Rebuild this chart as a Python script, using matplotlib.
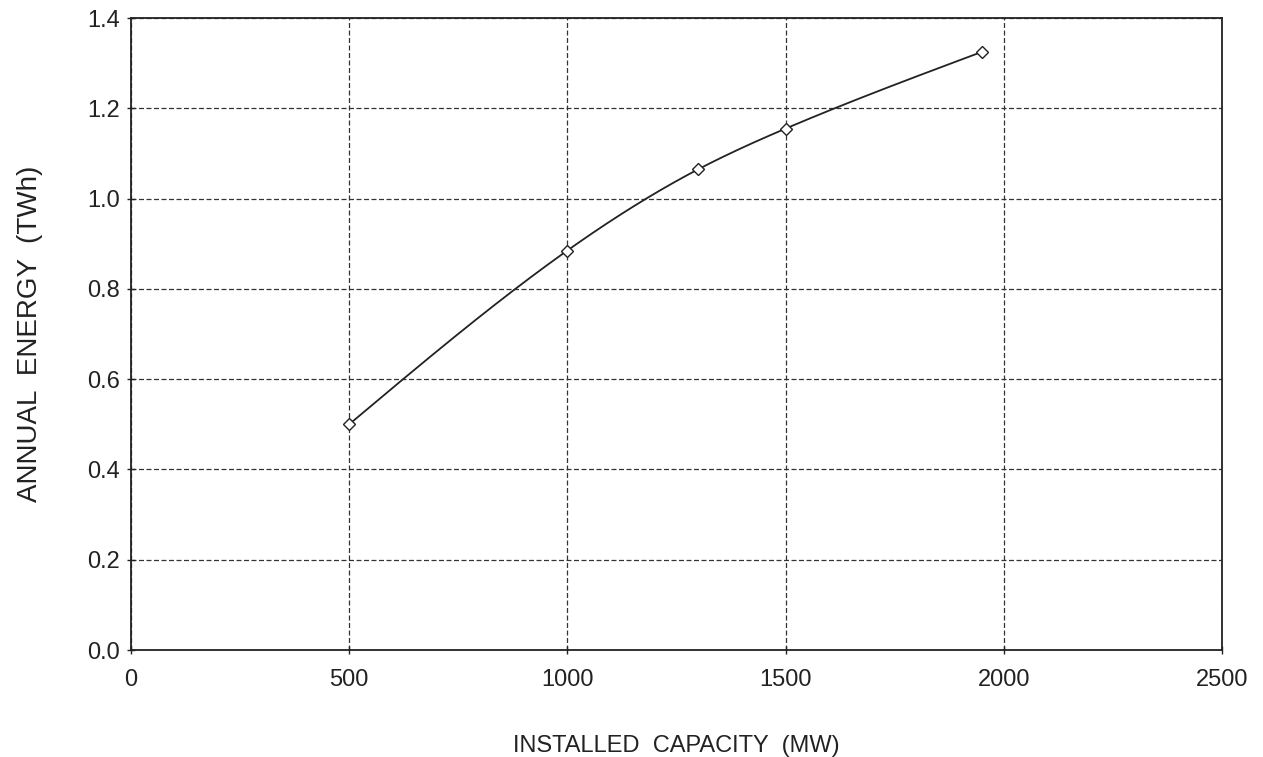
import numpy as np
import matplotlib
matplotlib.use("Agg")
import matplotlib.pyplot as plt

# Valores
capacity = [500, 1000, 1300, 1500, 1950]
energy = [0.50, 0.885, 1.065, 1.155, 1.325]

x_ticks = [0, 500, 1000, 1500, 2000, 2500]
y_ticks = [0.0, 0.2, 0.4, 0.6, 0.8, 1.0, 1.2, 1.4]

plt.rcParams['font.family'] = ['Liberation Sans', 'DejaVu Sans']


# Spline cubica natural so para desenhar a linha suave entre os pontos
def natural_spline(xs, ys, n=300):
    xs = np.asarray(xs, dtype=float)
    ys = np.asarray(ys, dtype=float)
    k = len(xs)
    h = np.diff(xs)
    A = np.zeros((k, k))
    b = np.zeros(k)
    A[0, 0] = 1
    A[-1, -1] = 1
    for i in range(1, k - 1):
        A[i, i - 1] = h[i - 1]
        A[i, i] = 2 * (h[i - 1] + h[i])
        A[i, i + 1] = h[i]
        b[i] = 6 * ((ys[i + 1] - ys[i]) / h[i] - (ys[i] - ys[i - 1]) / h[i - 1])
    M = np.linalg.solve(A, b)
    xx = np.linspace(xs[0], xs[-1], n)
    idx = np.clip(np.searchsorted(xs, xx) - 1, 0, k - 2)
    x0, x1 = xs[idx], xs[idx + 1]
    hh = x1 - x0
    t0, t1 = x1 - xx, xx - x0
    yy = (M[idx] * t0 ** 3 + M[idx + 1] * t1 ** 3) / (6 * hh) \
        + (ys[idx] / hh - M[idx] * hh / 6) * t0 \
        + (ys[idx + 1] / hh - M[idx + 1] * hh / 6) * t1
    return xx, yy


fig = plt.figure(figsize=(12.63, 7.57), dpi=100)
ax = fig.add_axes([0.1037, 0.1413, 0.8638, 0.8349])

sx, sy = natural_spline(capacity, energy)
ax.plot(sx, sy, color='#222222', lw=1.3)
ax.plot(capacity, energy, linestyle='none', marker='D', markersize=6,
        markerfacecolor='white', markeredgecolor='#222222', markeredgewidth=1.0, zorder=3)

ax.set_xlim(0, 2500)
ax.set_ylim(0, 1.4)
ax.set_xticks(x_ticks)
ax.set_yticks(y_ticks)
ax.set_yticklabels(['%.1f' % v for v in y_ticks])
ax.grid(True, color='#333333', linestyle=(0, (4, 2)), linewidth=0.9)
ax.set_axisbelow(True)

for s in ax.spines.values():
    s.set_color('#222222')
    s.set_linewidth(1.3)

ax.tick_params(axis='both', direction='inout', length=6, width=1, colors='#222222',
               labelsize=17)
ax.tick_params(axis='x', pad=11)
ax.tick_params(axis='y', pad=5)

ax.set_xlabel('INSTALLED  CAPACITY  (MW)', fontsize=17, labelpad=31, color='#222222')
ax.set_ylabel('ANNUAL  ENERGY  (TWh)', fontsize=20, labelpad=32, color='#222222')

fig.savefig('out.png', dpi=100)
